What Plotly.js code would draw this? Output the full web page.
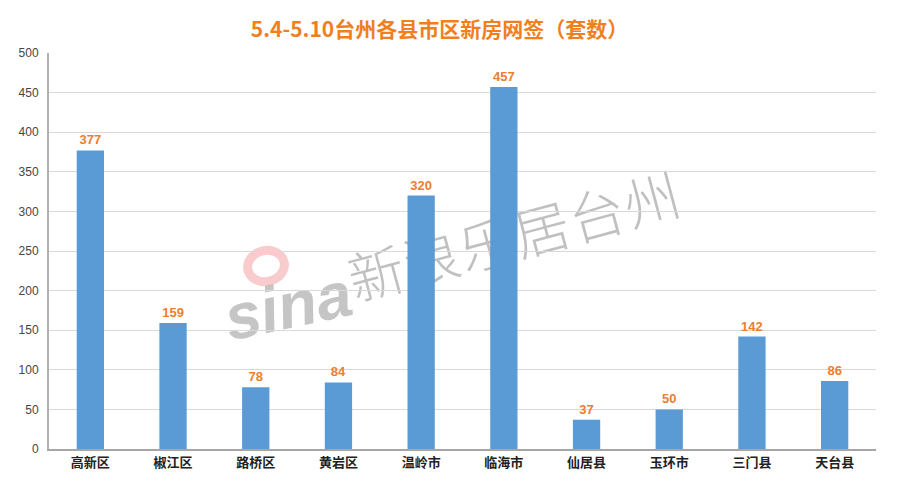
<!DOCTYPE html>
<html>
<head>
<meta charset="utf-8">
<script src="https://cdn.plot.ly/plotly-3.0.1.min.js"></script>
<style>
html,body{margin:0;padding:0;background:#fff;}
#wrap{position:relative;width:897px;height:486px;}
#chart{position:absolute;left:0;top:0;width:897px;height:486px;z-index:2;}
.wm{position:absolute;z-index:1;transform:translate(-50%,-50%) rotate(-15deg);white-space:nowrap;line-height:1;}
#wm1{left:514px;top:234px;font-family:"Noto Sans CJK SC",sans-serif;font-size:56px;font-weight:300;color:rgba(140,140,140,0.55);letter-spacing:1px;}
#wm2{left:288px;top:306px;font-family:Arial,"Liberation Sans",sans-serif;font-size:64px;font-weight:bold;font-style:italic;color:rgba(140,140,140,0.5);transform:translate(-50%,-50%) rotate(-12deg);}
#wm3{left:266px;top:266px;width:46px;height:40px;border-radius:50%;border:9px solid rgba(235,110,110,0.35);box-sizing:border-box;transform:translate(-50%,-50%) rotate(-12deg);}
</style>
</head>
<body>
<div id="wrap">
<div id="wm3" class="wm"></div>
<div id="wm2" class="wm">sina</div>
<div id="wm1" class="wm">新浪乐居台州</div>
<div id="chart"></div>
</div>
<script>
const categories = ["高新区","椒江区","路桥区","黄岩区","温岭市","临海市","仙居县","玉环市","三门县","天台县"];
const values = [377,159,78,84,320,457,37,50,142,86];
const yTicks = [0,50,100,150,200,250,300,350,400,450,500];

const trace = {
  type: 'bar',
  x: categories,
  y: values,
  width: 0.33,
  marker: {color: '#5B9BD5'},
  text: values.map(String),
  textposition: 'outside',
  cliponaxis: false,
  textfont: {family: 'Arial, "Liberation Sans", sans-serif', size: 13, color: '#ED7D31', weight: 'bold'},
  hoverinfo: 'none'
};

const layout = {
  width: 897, height: 486,
  margin: {l: 49, r: 21, t: 53, b: 37},
  paper_bgcolor: 'rgba(0,0,0,0)',
  plot_bgcolor: 'rgba(0,0,0,0)',
  showlegend: false,
  title: {
    text: '5.4-5.10台州各县市区新房网签（套数）',
    x: 0.49, xanchor: 'center', y: 0.94, yanchor: 'middle',
    font: {family: '"Noto Sans CJK SC", sans-serif', size: 21, color: '#F07F1E', weight: 'bold'}
  },
  xaxis: {
    type: 'category',
    showgrid: false,
    showline: true, linecolor: '#a6a6a6', linewidth: 2,
    ticks: '',
    tickfont: {family: '"Noto Sans CJK SC", sans-serif', size: 13, color: '#222', weight: 'bold'},
    fixedrange: true
  },
  yaxis: {
    range: [0, 500],
    tickvals: yTicks,
    ticktext: yTicks.map(String),
    showgrid: true, gridcolor: '#d9d9d9', gridwidth: 1,
    zeroline: false,
    showline: true, linecolor: '#b0b0b0', linewidth: 2,
    ticks: '',
    ticklabelstandoff: 6,
    tickfont: {family: 'Arial, "Liberation Sans", sans-serif', size: 12, color: '#444'},
    fixedrange: true
  },
  bargap: 0.67
};

Plotly.newPlot('chart', [trace], layout, {displayModeBar: false, staticPlot: true});
</script>
</body>
</html>
